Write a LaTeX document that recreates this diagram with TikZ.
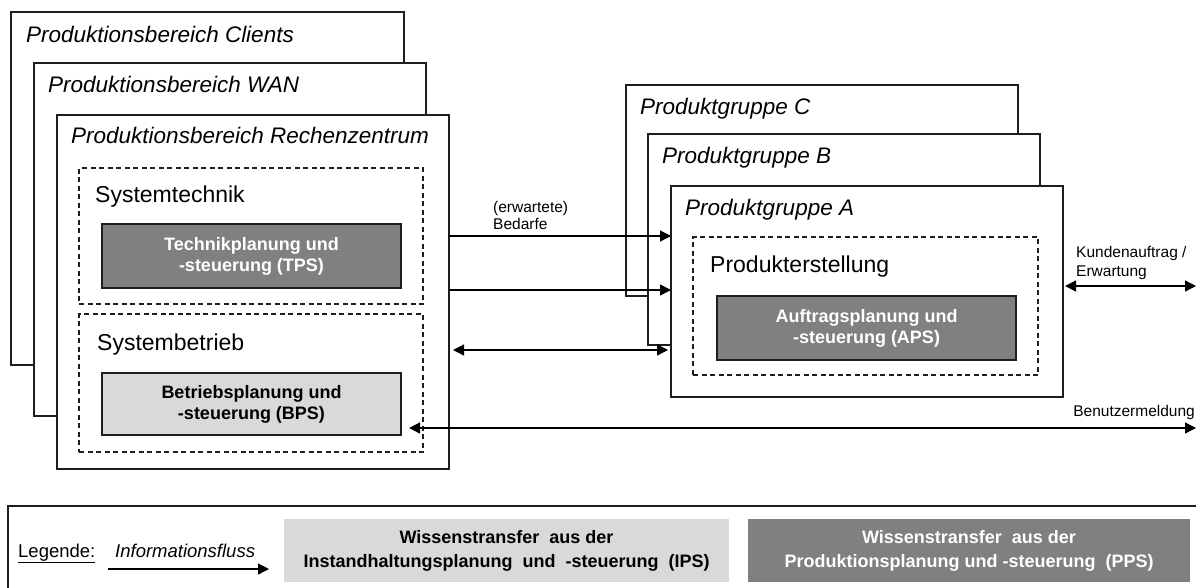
\documentclass[tikz,border=0pt]{standalone}
\usepackage{fontspec}
\setmainfont{Liberation Sans}
\usetikzlibrary{arrows.meta}
\definecolor{boxdark}{RGB}{128,128,128}
\definecolor{boxlight}{RGB}{217,217,217}
\definecolor{edge}{RGB}{30,30,30}
\tikzset{
  frame/.style={draw=edge, line width=1.3pt, fill=white, anchor=north west, inner sep=0pt, outer sep=0pt},
  area/.style={draw=edge, line width=1.1pt, dash pattern=on 5pt off 3.5pt, anchor=north west, inner sep=0pt, outer sep=0pt},
  planbox/.style={draw=edge, line width=1.1pt, anchor=north west, inner sep=0pt, outer sep=0pt, align=center,
    font=\fontsize{18}{21}\selectfont\bfseries},
  dark/.style={planbox, fill=boxdark, text=white},
  light/.style={planbox, fill=boxlight, text=black},
  title/.style={anchor=base west, inner sep=0pt, font=\fontsize{22.5}{27}\selectfont\itshape},
  section/.style={anchor=base west, inner sep=0pt, font=\fontsize{23}{27}\selectfont},
  small/.style={anchor=base west, inner sep=0pt, align=left, font=\fontsize{15.5}{19}\selectfont},
  legendtext/.style={anchor=base west, inner sep=0pt, font=\fontsize{18.5}{22}\selectfont},
  tip/.tip={Triangle[length=11pt,width=11pt]},
  flow/.style={line width=1.3pt, -tip},
  biflow/.style={line width=1.3pt, tip-tip},
}
\begin{document}
\begin{tikzpicture}[x=1pt,y=-1pt]
  \useasboundingbox (0,0) rectangle (1196,587);
  \clip (0,0) rectangle (1196,587);

  % production areas (stacked)
  \node[frame, minimum width=393, minimum height=353] (clients) at (11,12) {};
  \node[title] (tclients) at (26,42) {Produktionsbereich Clients};
  \node[frame, minimum width=392, minimum height=353] (wan) at (34,63) {};
  \node[title] (twan) at (48,92) {Produktionsbereich WAN};
  \node[frame, minimum width=392, minimum height=354] (rz) at (57,115) {};
  \node[title] (trz) at (71,143) {Produktionsbereich Rechenzentrum};

  % system engineering
  \node[area, minimum width=344, minimum height=136] (st) at (79,168) {};
  \node[section] (tst) at (95,202) {Systemtechnik};
  \node[dark, minimum width=299, minimum height=64] (tps) at (102,224) {Technikplanung und\\ -steuerung (TPS)};

  % system operation
  \node[area, minimum width=344, minimum height=138] (sb) at (79,314) {};
  \node[section] (tsb) at (97,350) {Systembetrieb};
  \node[light, minimum width=299, minimum height=62] (bps) at (102,373) {Betriebsplanung und\\ -steuerung (BPS)};

  % product groups (stacked)
  \node[frame, minimum width=392, minimum height=211] (pc) at (626,85) {};
  \node[title] (tpc) at (640,114) {Produktgruppe C};
  \node[frame, minimum width=392, minimum height=211] (pb) at (648,134) {};
  \node[title] (tpb) at (662,163) {Produktgruppe B};
  \node[frame, minimum width=392, minimum height=211] (pa) at (671,186) {};
  \node[title] (tpa) at (685,215) {Produktgruppe A};

  \node[area, minimum width=345, minimum height=138] (pe) at (693,237) {};
  \node[section] (tpe) at (710,272) {Produkterstellung};
  \node[dark, minimum width=299, minimum height=64] (aps) at (717,296) {Auftragsplanung und\\ -steuerung (APS)};

  % information flows
  \coordinate (y1) at (0,236);
  \coordinate (y2) at (0,290);
  \coordinate (y3) at (0,350);
  \coordinate (y4) at (0,428);
  \coordinate (y5) at (0,286);
  \coordinate (outright) at (1196,0);
  \coordinate (bpsend) at (409,0);
  \coordinate (rzend) at (453,0);
  \coordinate (paend) at (668,0);
  \coordinate (paout) at (1065,0);

  \draw[flow] (rz.east |- y1) -- (pa.west |- y1);
  \node[small] (lbedarf) at (493,212) {(erwartete)};
  \node[small] (lbedarf2) at (493,229) {Bedarfe};
  \draw[flow] (rz.east |- y2) -- (pa.west |- y2);
  \draw[biflow] (rzend |- y3) -- (paend |- y3);
  \draw[biflow] (bpsend |- y4) -- (outright |- y4);
  \node[small, anchor=base east] (lbenutzer) at (1195,416) {Benutzermeldung};
  \draw[biflow] (paout |- y5) -- (outright |- y5);
  \node[small] (lkunde) at (1076,257) {Kundenauftrag /};
  \node[small] (lkunde2) at (1076,276) {Erwartung};

  % legend
  \node[frame, minimum width=1200, minimum height=100] (legend) at (8,506) {};
  \node[legendtext] (lleg) at (18,557) {\underline{Legende:}};
  \node[legendtext, font=\fontsize{18.5}{22}\selectfont\itshape] (linfo) at (115,557) {Informationsfluss};
  \coordinate (la) at (108,569);
  \coordinate (lb) at (269,569);
  \draw[flow] (la) -- (lb);
  \node[light, draw=none, minimum width=445, minimum height=63, font=\fontsize{18}{24}\selectfont\bfseries] (lips) at (284,519) {Wissenstransfer\ \ aus\ der\\ Instandhaltungsplanung\ \ und\ \ -steuerung\ \ (IPS)};
  \node[dark, draw=none, minimum width=442, minimum height=63, font=\fontsize{18}{24}\selectfont\bfseries] (lpps) at (748,519) {Wissenstransfer\ \ aus\ der\\ Produktionsplanung\ und\ -steuerung\ \ (PPS)};
\end{tikzpicture}
\end{document}
